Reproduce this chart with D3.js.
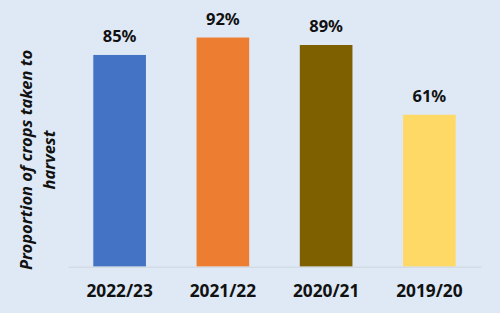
<!DOCTYPE html>
<html>
<head>
<meta charset="utf-8">
<script src="https://cdnjs.cloudflare.com/ajax/libs/d3/7.8.5/d3.min.js"></script>
<style>
  html, body { margin: 0; padding: 0; background: #dee9f5; }
  #chart { width: 500px; height: 313px; }
  text { font-family: "Noto Sans", sans-serif; fill: #111; }
</style>
</head>
<body>
<div id="chart"></div>
<script>
// data
var seasons = ["2022/23", "2021/22", "2020/21", "2019/20"];
var harvested = [85, 92, 89, 61];
var barColors = ["#4472c4", "#ed7d31", "#7f6000", "#ffd966"];
var yTitleLines = ["Proportion of crops taken to", "harvest"];

var margin = {top: 17.6, right: 19, bottom: 46.3, left: 68};
var width = 500 - margin.left - margin.right;
var height = 313 - margin.top - margin.bottom;

var svg = d3.select("#chart").append("svg")
    .attr("width", 500)
    .attr("height", 313);

svg.append("rect")
    .attr("width", 500)
    .attr("height", 313)
    .attr("fill", "#dee9f5");

var g = svg.append("g")
    .attr("transform", "translate(" + margin.left + "," + margin.top + ")");

var x = d3.scaleBand()
    .domain(seasons)
    .range([0, width])
    .paddingInner(0.49)
    .paddingOuter(0.245);

var y = d3.scaleLinear()
    .domain([0, 100])
    .range([height, 0]);

var data = seasons.map(function(s, i) {
    return {season: s, value: harvested[i], color: barColors[i]};
});

g.selectAll(".bar")
    .data(data)
    .enter().append("rect")
    .attr("class", "bar")
    .attr("x", function(d) { return x(d.season); })
    .attr("y", function(d) { return y(d.value); })
    .attr("width", x.bandwidth())
    .attr("height", function(d) { return height - y(d.value); })
    .attr("fill", function(d) { return d.color; });

// baseline
var axisX = d3.axisBottom(x).tickSize(0).tickPadding(18);
var gx = g.append("g")
    .attr("class", "axis axis--x")
    .attr("transform", "translate(0," + height + ")")
    .call(axisX);
gx.select(".domain").attr("stroke", "#d3dbe5").attr("stroke-width", 1.5);
gx.selectAll("text")
    .style("font-size", "17.3px")
    .style("font-weight", "bold")
    .attr("fill", "#111");

// value labels
g.selectAll(".val")
    .data(data)
    .enter().append("text")
    .attr("class", "val")
    .attr("x", function(d) { return x(d.season) + x.bandwidth() / 2; })
    .attr("y", function(d) { return y(d.value) - 13; })
    .attr("text-anchor", "middle")
    .style("font-size", "16.5px")
    .style("font-weight", "bold")
    .text(function(d) { return d.value + "%"; });

// y title
var title = svg.append("text")
    .attr("transform", "translate(32,160) rotate(-90)")
    .attr("text-anchor", "middle")
    .style("font-size", "16.5px")
    .style("font-weight", "bold")
    .style("font-style", "italic");
title.selectAll("tspan")
    .data(yTitleLines)
    .enter().append("tspan")
    .attr("x", 0)
    .attr("dy", function(d, i) { return i === 0 ? 0 : 23; })
    .text(function(d) { return d; });
</script>
</body>
</html>
